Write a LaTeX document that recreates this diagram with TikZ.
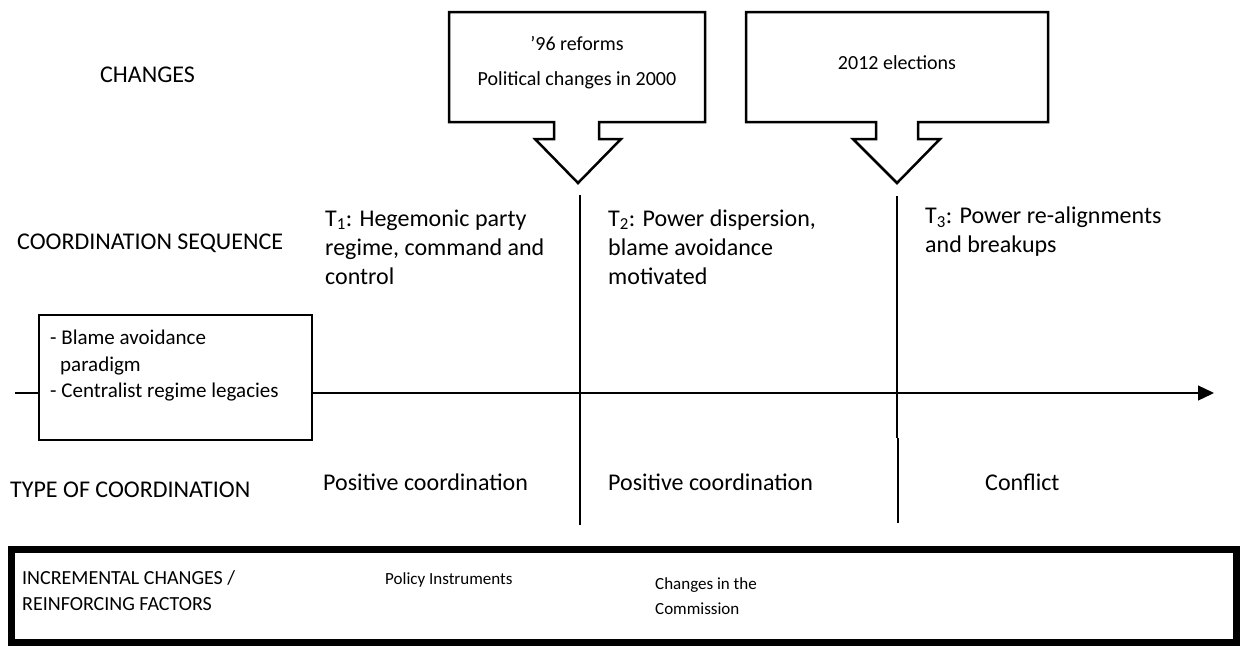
\documentclass[tikz,border=0pt]{standalone}
\usepackage{fontspec}
\setmainfont{Carlito}
\usetikzlibrary{arrows.meta}
\begin{document}
\begin{tikzpicture}[x=1pt,y=-1pt,
  lbl/.style={anchor=west, inner sep=0pt, align=left, font=\fontsize{24}{29}\selectfont},
  small/.style={anchor=west, inner sep=0pt, align=left, font=\fontsize{20}{26}\selectfont},
  call/.style={draw=black, line width=2.5pt, line join=miter, fill=white},
  axis/.style={draw=black, line width=1.3pt},
  sep/.style={draw=black, line width=1.3pt},
  framebox/.style={draw=black, line width=2.5pt, fill=white},
  heavy/.style={draw=black, line width=7pt}]
\useasboundingbox (0,0) rectangle (1241,646);

% row labels
\node[lbl] (lchanges) at (100,75) {CHANGES};
\node[lbl] (lseq) at (17,243) {COORDINATION SEQUENCE};
\node[lbl] (ltype) at (10,490) {TYPE OF COORDINATION};

% callouts
\draw[call] (449,12) -- (705,12) -- (705,122) -- (599,122) -- (599,139) -- (621,139)
  -- (578,183) -- (535,139) -- (554,139) -- (554,122) -- (449,122) -- cycle;
\node[small, anchor=center, align=center] (c1) at (577,63) {’96 reforms\\[9pt]Political changes in 2000};
\draw[call] (746,12) -- (1048,12) -- (1048,122) -- (918,122) -- (918,139) -- (940,139)
  -- (897,183) -- (853,139) -- (876,139) -- (876,122) -- (746,122) -- cycle;
\node[small, anchor=center] (c2) at (897,63) {2012 elections};

\coordinate (tip1) at (580,195);
\coordinate (tip2) at (897,196);
\coordinate (bot1) at (580,525);
\coordinate (mid2) at (897,438);
\coordinate (mid2b) at (898,438);
\coordinate (bot2) at (898,523);

% timeline
\coordinate (tstart) at (15,393);
\coordinate (tend) at (1214,393);
\draw[axis, -{Triangle[length=16pt,width=15pt]}] (tstart) -- (tend);

% separators
\draw[sep] (tip1) -- (bot1);
\draw[sep, line width=2pt] (tip2) -- (mid2);
\draw[sep] (mid2b) -- (bot2);

% legacy box
\draw[framebox] (39,315) rectangle (312,440);
\node[anchor=west, inner sep=0pt, align=left, font=\fontsize{21}{26.5}\selectfont] (legacy) at (50,366)
  {- Blame avoidance\\\hspace*{10pt}paradigm\\- Centralist regime legacies};

% periods
\node[lbl] (t1) at (325,247) {T\textsubscript{1}: Hegemonic party\\regime, command and\\control};
\node[lbl] (t2) at (608,247) {T\textsubscript{2}: Power dispersion,\\blame avoidance\\motivated};
\node[lbl] (t3) at (925,232) {T\textsubscript{3}: Power re-alignments\\and breakups};

\node[lbl] (p1) at (323,482) {Positive coordination};
\node[lbl] (p2) at (608,482) {Positive coordination};
\node[lbl] (p3) at (985,482) {Conflict};

% bottom frame
\draw[heavy] (11.5,549) rectangle (1236.5,642.5);
\node[small] (inc) at (22,591) {INCREMENTAL CHANGES /\\REINFORCING FACTORS};
\node[anchor=west, inner sep=0pt, font=\fontsize{17}{25}\selectfont] (pol) at (385,580) {Policy Instruments};
\node[anchor=west, inner sep=0pt, align=left, font=\fontsize{17}{25}\selectfont] (com) at (655,596) {Changes in the\\Commission};
\end{tikzpicture}
\end{document}
